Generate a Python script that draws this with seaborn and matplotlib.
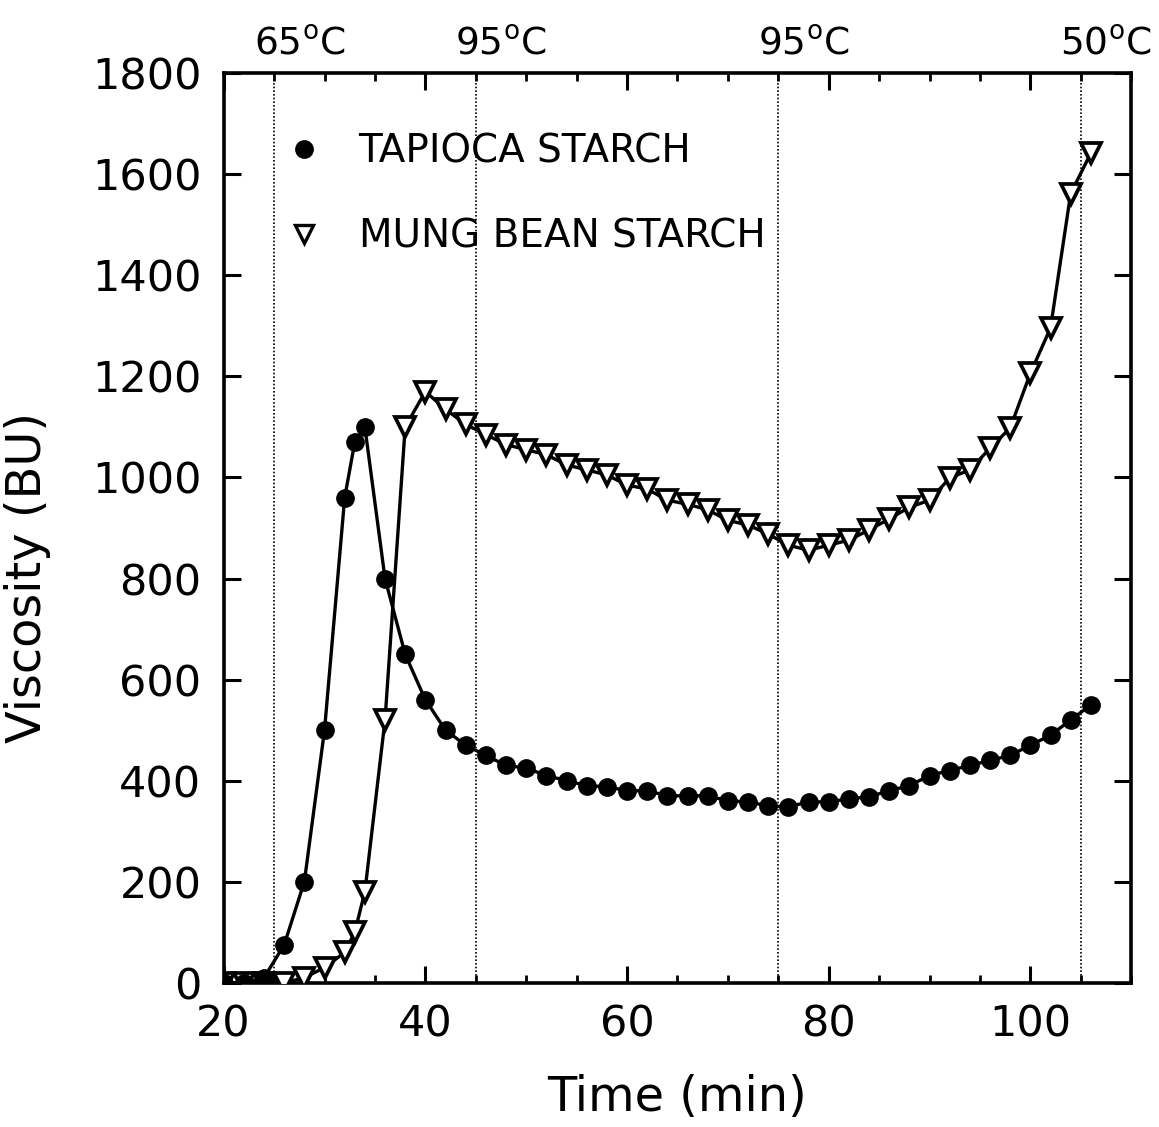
import numpy as np
import pandas as pd
import matplotlib
matplotlib.use("Agg")
import matplotlib.pyplot as plt
from matplotlib.lines import Line2D
import seaborn as sns

# Brabender viscosity profiles (time in minutes, viscosity in BU)
tapioca_time = [20, 22, 24, 26, 28, 30, 32, 33, 34, 36, 38, 40, 42, 44, 46, 48, 50,
                52, 54, 56, 58, 60, 62, 64, 66, 68, 70, 72, 74, 76, 78, 80, 82, 84,
                86, 88, 90, 92, 94, 96, 98, 100, 102, 104, 106]
tapioca_visc = [0, 0, 10, 75, 200, 500, 960, 1070, 1100, 800, 650, 560, 500, 470,
                450, 430, 425, 410, 400, 390, 388, 380, 380, 370, 370, 370, 360, 358,
                350, 348, 358, 358, 364, 368, 380, 390, 410, 420, 430, 440, 450, 470,
                490, 520, 550]

mung_time = [20, 22, 24, 26, 28, 30, 32, 33, 34, 36, 38, 40, 42, 44, 46, 48, 50,
             52, 54, 56, 58, 60, 62, 64, 66, 68, 70, 72, 74, 76, 78, 80, 82, 84,
             86, 88, 90, 92, 94, 96, 98, 100, 102, 104, 106]
mung_visc = [0, 0, 0, 0, 10, 30, 60, 100, 180, 520, 1100, 1170, 1135, 1105, 1085,
             1065, 1055, 1045, 1025, 1015, 1005, 985, 977, 955, 947, 936, 915, 906,
             888, 866, 856, 866, 876, 896, 918, 941, 955, 999, 1015, 1058, 1098,
             1206, 1296, 1562, 1642]

series_names = ["TAPIOCA STARCH", "MUNG BEAN STARCH"]

# Temperature program stages
stage_times = [25, 45, 75, 105]
stage_labels = ["65", "95", "95", "50"]

x_ticks = [20, 40, 60, 80, 100]
y_ticks = [0, 200, 400, 600, 800, 1000, 1200, 1400, 1600, 1800]

tapioca = pd.DataFrame({"Time": tapioca_time, "Viscosity": tapioca_visc})
mung = pd.DataFrame({"Time": mung_time, "Viscosity": mung_visc})

sns.set_style("ticks")
plt.rcParams["font.family"] = ["DejaVu Sans"]
plt.rcParams["mathtext.fontset"] = "dejavusans"
plt.rcParams["text.color"] = "black"
plt.rcParams["axes.labelcolor"] = "black"
plt.rcParams["xtick.color"] = "black"
plt.rcParams["ytick.color"] = "black"

fig = plt.figure(figsize=(11.59, 11.27), dpi=100)
ax = fig.add_axes([0.193, 0.128, 0.783, 0.807])

for t in stage_times:
    ax.axvline(t, color="black", lw=1.2, ls=(0, (1, 1.2)), zorder=1)

sns.lineplot(data=mung, x="Time", y="Viscosity", ax=ax, estimator=None,
             color="black", lw=2.4, marker="v", markersize=15,
             markerfacecolor="white", markeredgecolor="black",
             markeredgewidth=2.7, zorder=3)
sns.lineplot(data=tapioca, x="Time", y="Viscosity", ax=ax, estimator=None,
             color="black", lw=2.4, marker="o", markersize=13.5,
             markerfacecolor="black", markeredgecolor="black",
             markeredgewidth=0, zorder=4)

ax.set_xlim(20, 110)
ax.set_ylim(0, 1800)
ax.set_xticks(x_ticks)
ax.set_xticks(np.arange(20, 111, 5), minor=True)
ax.set_yticks(y_ticks)
ax.tick_params(axis="both", which="major", direction="in", length=12, width=2.2,
               top=True, right=True, labelsize=31, color="black",
               labelcolor="black")
ax.tick_params(axis="x", which="major", pad=15)
ax.tick_params(axis="y", which="major", pad=16)
ax.tick_params(axis="x", which="minor", direction="in", length=6, width=2,
               top=True, bottom=True)
ax.tick_params(axis="y", which="minor", left=False, right=False)

for spine in ax.spines.values():
    spine.set_linewidth(2.6)
    spine.set_color("black")
    spine.set_visible(True)

ax.set_xlabel("Time (min)", fontsize=34.5, color="black")
ax.set_ylabel("Viscosity (BU)", fontsize=34.5, color="black")
ax.xaxis.set_label_coords(0.5, -0.1)
ax.yaxis.set_label_coords(-0.19, 0.446)

for t, lab in zip(stage_times, stage_labels):
    ax.text(t + 2.5, 1.0 + 0.012, lab + r"$^{\mathrm{o}}$C",
            transform=ax.get_xaxis_transform(), ha="center", va="bottom",
            fontsize=27, color="black")

handles = [
    Line2D([], [], ls="none", marker="o", markersize=12.5, color="black"),
    Line2D([], [], ls="none", marker="v", markersize=12.5, markerfacecolor="white",
           markeredgecolor="black", markeredgewidth=2.4),
]
leg = ax.legend(handles, series_names, loc="upper left",
                bbox_to_anchor=(0.05, 0.952), frameon=False, fontsize=28,
                handlelength=1.0, handletextpad=0.9, labelspacing=1.22,
                borderaxespad=0)
for txt in leg.get_texts():
    txt.set_color("black")

fig.savefig("out.png", dpi=100)
